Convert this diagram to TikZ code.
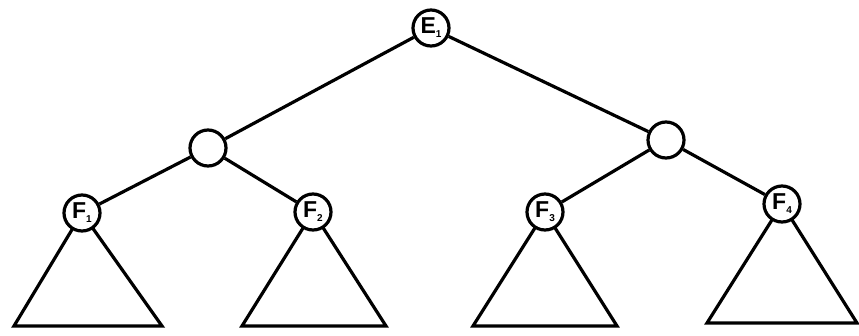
\documentclass[tikz,border=0pt]{standalone}
\usepackage{fontspec}
\setmainfont{Liberation Sans}
\newcommand{\lblsub}[1]{\raisebox{-4pt}{\fontsize{10}{10}\selectfont #1}}
\begin{document}
\begin{tikzpicture}[x=1pt,y=-1pt,line width=3.2pt,
  vtx/.style={circle,draw,fill=white,minimum size=36pt,inner sep=0pt,font=\bfseries\fontsize{23}{23}\selectfont},
  tri/.style={draw,line join=miter}]
\useasboundingbox (0,0) rectangle (859,335);
\coordinate (f1b1) at (14,326); \coordinate (f1b2) at (162,326);
\coordinate (f2b1) at (242,326); \coordinate (f2b2) at (386,326);
\coordinate (f3b1) at (473,326); \coordinate (f3b2) at (617,326);
\coordinate (f4b1) at (707,323); \coordinate (f4b2) at (857,323);
\coordinate (a1) at (82,213); \coordinate (a2) at (313,212);
\coordinate (a3) at (545,212); \coordinate (a4) at (782,204);
\draw[tri] (a1) -- (f1b1) -- (f1b2) -- cycle;
\draw[tri] (a2) -- (f2b1) -- (f2b2) -- cycle;
\draw[tri] (a3) -- (f3b1) -- (f3b2) -- cycle;
\draw[tri] (a4) -- (f4b1) -- (f4b2) -- cycle;
\node[vtx] (e1) at (431,28) {E\lblsub{1}};
\node[vtx] (l) at (208,148) {};
\node[vtx] (r) at (666,140) {};
\node[vtx] (f1) at (a1) {F\lblsub{1}};
\node[vtx] (f2) at (a2) {F\lblsub{2}};
\node[vtx] (f3) at (a3) {F\lblsub{3}};
\node[vtx] (f4) at (a4) {F\lblsub{4}};
\draw (e1) -- (l);
\draw (e1) -- (r);
\draw (l) -- (f1);
\draw (l) -- (f2);
\draw (r) -- (f3);
\draw (r) -- (f4);
\end{tikzpicture}
\end{document}
